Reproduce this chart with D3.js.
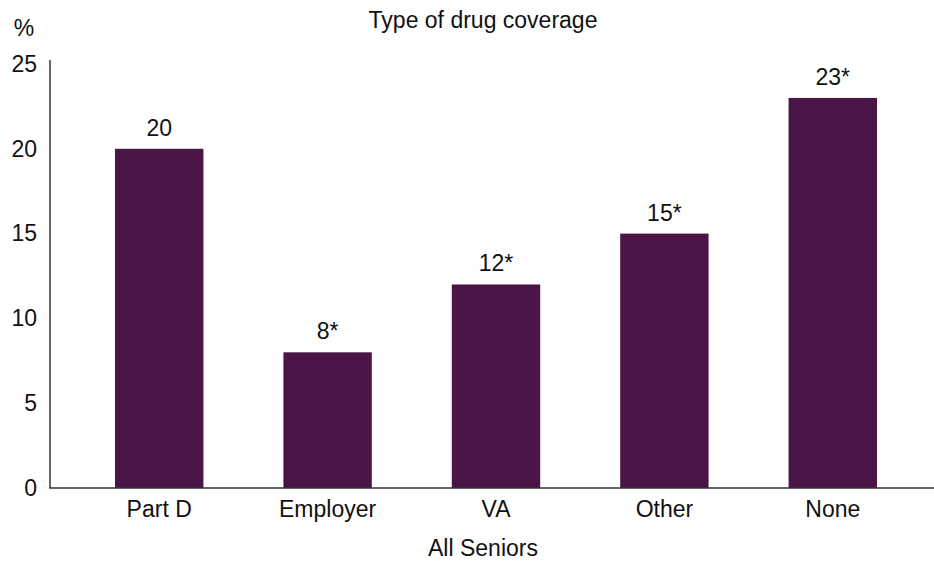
<!DOCTYPE html>
<html>
<head>
<meta charset="utf-8">
<script src="https://cdn.jsdelivr.net/npm/d3@7"></script>
<style>
  html, body { margin: 0; padding: 0; background: #fff; }
  svg { display: block; }
  text { font-family: "Liberation Sans", Arial, sans-serif; fill: #111; }
</style>
</head>
<body>
<script>
// Share of seniors by type of drug coverage
const categories = ["Part D", "Employer", "VA", "Other", "None"];
const values = [20, 8, 12, 15, 23];
const valueLabels = ["20", "8*", "12*", "15*", "23*"];
const yTicks = [0, 5, 10, 15, 20, 25];

const W = 934, H = 562;
const svg = d3.select("body").append("svg").attr("width", W).attr("height", H);

const x = d3.scaleBand()
  .domain(categories)
  .range([50, 942])
  .paddingInner(0.475)
  .paddingOuter(0.386);

const y = d3.scaleLinear().domain([0, 25]).range([488, 64]);

// Bars
svg.append("g").selectAll("rect")
  .data(categories)
  .join("rect")
  .attr("x", d => x(d))
  .attr("y", (d, i) => y(values[i]))
  .attr("width", x.bandwidth())
  .attr("height", (d, i) => y(0) - y(values[i]))
  .attr("fill", "#4b1446");

// Value labels above bars
svg.append("g").selectAll("text")
  .data(categories)
  .join("text")
  .attr("x", d => x(d) + x.bandwidth() / 2)
  .attr("y", (d, i) => y(values[i]) - 13)
  .attr("text-anchor", "middle")
  .style("font-size", "23px")
  .text((d, i) => valueLabels[i]);

// Y axis: labels only, with a plain vertical rule
const yAxis = d3.axisLeft(y).tickValues(yTicks).tickSize(0).tickPadding(13);
const gy = svg.append("g").attr("transform", "translate(50,0)").call(yAxis);
gy.select(".domain").remove();
gy.selectAll("text").style("font-size", "23px").style("font-family", "Liberation Sans, Arial, sans-serif").attr("fill", "#111");

svg.append("line")
  .attr("x1", 50).attr("x2", 50)
  .attr("y1", 60).attr("y2", y(0))
  .attr("stroke", "#333").attr("stroke-width", 1.5);

// X axis: category labels and baseline rule
const xAxis = d3.axisBottom(x).tickSize(0).tickPadding(13);
const gx = svg.append("g").attr("transform", `translate(0,${y(0)})`).call(xAxis);
gx.select(".domain").remove();
gx.selectAll("text").style("font-size", "23px").style("font-family", "Liberation Sans, Arial, sans-serif").attr("fill", "#111");

svg.append("line")
  .attr("x1", 49.25).attr("x2", W)
  .attr("y1", y(0)).attr("y2", y(0))
  .attr("stroke", "#333").attr("stroke-width", 1.5);

// Titles
svg.append("text")
  .attr("x", 24).attr("y", 36)
  .attr("text-anchor", "middle")
  .style("font-size", "23px")
  .text("%");

svg.append("text")
  .attr("x", 483).attr("y", 28)
  .attr("text-anchor", "middle")
  .style("font-size", "23px")
  .text("Type of drug coverage");

svg.append("text")
  .attr("x", 483).attr("y", 556)
  .attr("text-anchor", "middle")
  .style("font-size", "23px")
  .text("All Seniors");
</script>
</body>
</html>
